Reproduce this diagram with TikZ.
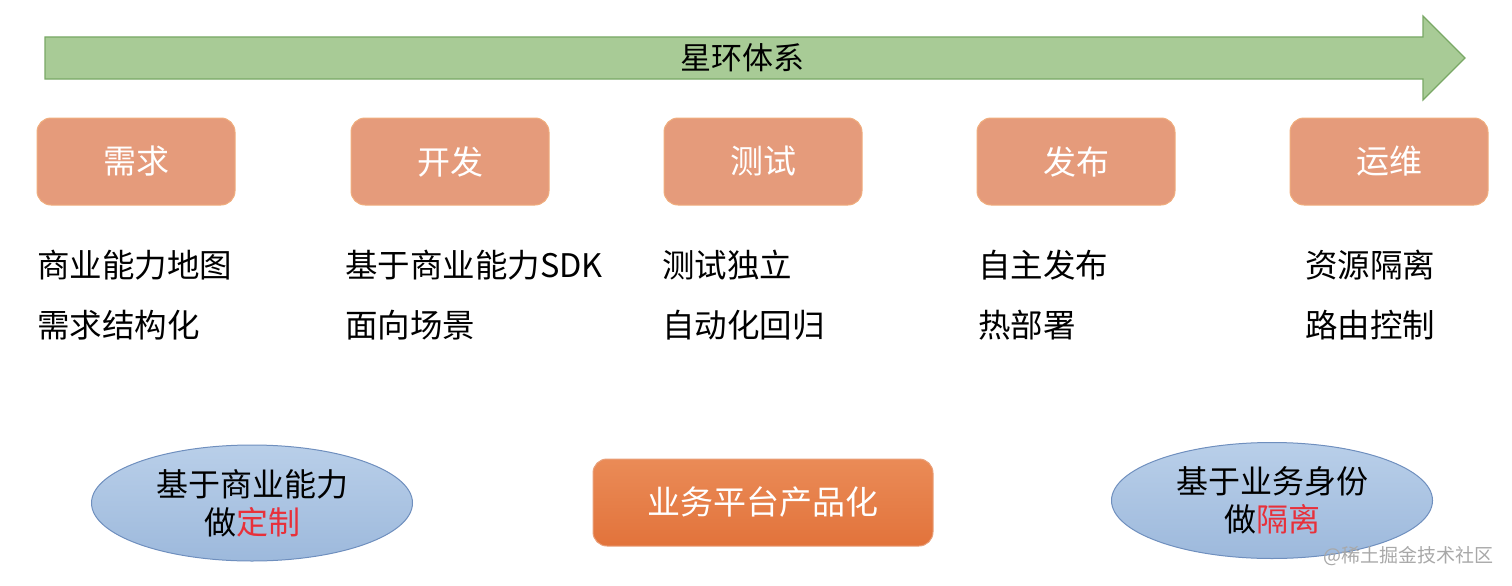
\documentclass[tikz,border=0pt]{standalone}
\usepackage{fontspec}
\setmainfont{Noto Sans CJK SC}
\usetikzlibrary{shapes.geometric, arrows.meta}

\definecolor{arrowgreen}{HTML}{A8CB96}
\definecolor{arrowedge}{HTML}{79A865}
\definecolor{stagefill}{HTML}{E59B7B}
\definecolor{stageedge}{HTML}{F0AE7E}
\definecolor{platformtop}{HTML}{EA8B57}
\definecolor{platformbot}{HTML}{E2733B}
\definecolor{platformedge}{HTML}{E9A07A}
\definecolor{bubbletop}{HTML}{B9CFE9}
\definecolor{bubblebot}{HTML}{9DB9DC}
\definecolor{bubbleedge}{HTML}{6F8FBE}
\definecolor{hotred}{HTML}{E8303A}
\definecolor{marktext}{HTML}{A8A8A8}

\tikzset{
  stagebox/.style={draw=stageedge, fill=stagefill, line width=1pt, rounded corners=14pt,
    minimum width=198pt, minimum height=87pt, text=white, font=\fontsize{33}{38}\selectfont},
  itemtext/.style={anchor=west, inner sep=0pt, font=\fontsize{32.5}{38}\selectfont},
  bubble/.style={ellipse, draw=bubbleedge, line width=1pt, top color=bubbletop, bottom color=bubblebot,
    minimum width=321pt, minimum height=116pt, align=center, inner sep=0pt,
    font=\fontsize{32}{38}\selectfont}
}

\begin{document}
\begin{tikzpicture}[x=1pt,y=-1pt]
\useasboundingbox (0,0) rectangle (1512,586);

% timeline arrow
\draw[fill=arrowgreen, draw=arrowedge, line width=1.2pt]
  (45,37) -- (1423,37) -- (1423,16) -- (1465,58) -- (1423,100) -- (1423,79) -- (45,79) -- cycle;
\node[font=\fontsize{31}{36}\selectfont] (title) at (742,58) {星环体系};

% stages
\node[stagebox] (xuqiu) at (136,161.5) {需求};
\node[stagebox] (kaifa) at (450,161.5) {开发};
\node[stagebox] (ceshi) at (763,161.5) {测试};
\node[stagebox] (fabu) at (1076,161.5) {发布};
\node[stagebox] (yunwei) at (1389,161.5) {运维};

% items
\node[itemtext] (xuqiua) at (37,265) {商业能力地图};
\node[itemtext] (xuqiub) at (37,325) {需求结构化};
\node[itemtext] (kaifaa) at (345,265) {基于商业能力SDK};
\node[itemtext] (kaifab) at (345,325) {面向场景};
\node[itemtext] (ceshia) at (662,265) {测试独立};
\node[itemtext] (ceshib) at (662,325) {自动化回归};
\node[itemtext] (fabua) at (978,265) {自主发布};
\node[itemtext] (fabub) at (978,325) {热部署};
\node[itemtext] (yunweia) at (1305,265) {资源隔离};
\node[itemtext] (yunweib) at (1305,325) {路由控制};

% bottom row
\node[bubble] (dingzhi) at (252,503) {基于商业能力\\做\textcolor{hotred}{定制}};
\node[draw=platformedge, line width=1pt, top color=platformtop, bottom color=platformbot,
  rounded corners=14pt, minimum width=340pt, minimum height=87pt, text=white,
  font=\fontsize{33}{38}\selectfont] (pingtai) at (763,502.5) {业务平台产品化};
\node[bubble] (geli) at (1272,500.5) {基于业务身份\\做\textcolor{hotred}{隔离}};

\node[text=marktext, anchor=east, inner sep=0pt, font=\fontsize{19}{22}\selectfont] (mark) at (1494,556) {@稀土掘金技术社区};
\end{tikzpicture}
\end{document}
